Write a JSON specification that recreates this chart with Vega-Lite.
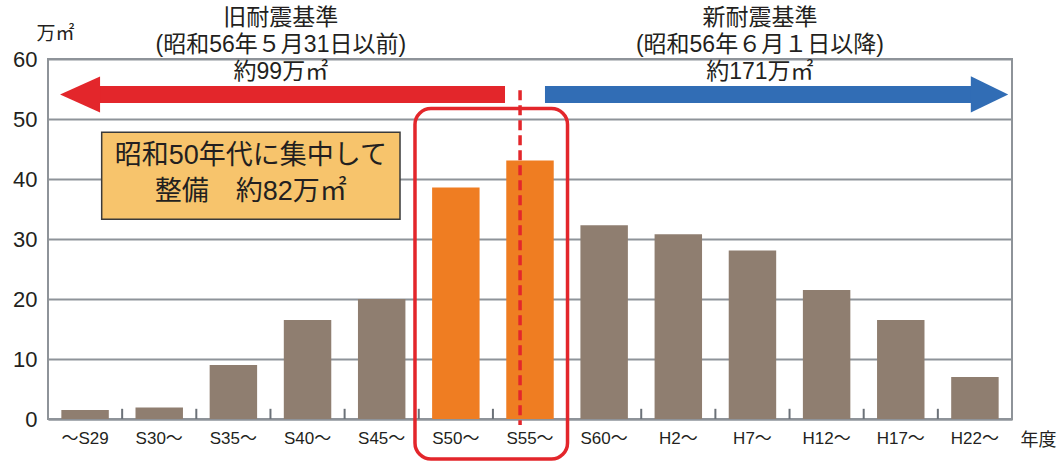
{
  "$schema": "https://vega.github.io/schema/vega-lite/v6.json",
  "autosize": {"type": "none"},
  "padding": {"left": 48, "top": 59, "right": 50, "bottom": 42},
  "width": 964,
  "height": 360,
  "background": "white",
  "config": {
    "view": {"stroke": "#8e9399", "strokeWidth": 2},
    "font": "Liberation Sans, Noto Sans CJK JP",
    "text": {"font": "Liberation Sans, Noto Sans CJK JP", "color": "#231f20"}
  },
  "resolve": {"scale": {"x": "independent"}, "axis": {"y": "shared"}},
  "layer": [
    {
      "data": {"values": [
        {"period": "～S29", "value": 1.5},
        {"period": "S30～", "value": 1.9},
        {"period": "S35～", "value": 9.0},
        {"period": "S40～", "value": 16.5},
        {"period": "S45～", "value": 20.0},
        {"period": "S50～", "value": 38.6},
        {"period": "S55～", "value": 43.1},
        {"period": "S60～", "value": 32.3},
        {"period": "H2～", "value": 30.8},
        {"period": "H7～", "value": 28.1},
        {"period": "H12～", "value": 21.5},
        {"period": "H17～", "value": 16.5},
        {"period": "H22～", "value": 7.0}
      ]},
      "mark": {"type": "bar"},
      "encoding": {
        "x": {
          "field": "period", "type": "nominal", "sort": null,
          "scale": {"paddingInner": 0.36, "paddingOuter": 0.18},
          "axis": {
            "title": "年度", "titleFontSize": 18, "titleFontWeight": "normal", "titleColor": "#231f20",
            "titleX": 990, "titleY": 21, "titleBaseline": "middle", "titleAlign": "center",
            "labelAngle": 0, "labelFontSize": 17, "labelColor": "#231f20", "labelPadding": 11,
            "ticks": false, "domainColor": "#8e9399", "domainWidth": 2,
            "labelFont": "Liberation Sans Narrow, Liberation Sans, Noto Sans CJK JP",
            "titleFont": "Noto Sans CJK JP"
          }
        },
        "y": {
          "field": "value", "type": "quantitative",
          "scale": {"domain": [0, 60], "nice": false},
          "axis": {
            "values": [0, 10, 20, 30, 40, 50, 60],
            "title": "万㎡", "titleAngle": 0, "titleFontSize": 19, "titleFontWeight": "normal",
            "titleColor": "#231f20", "titleX": 7, "titleY": -26, "titleAlign": "center", "titleBaseline": "middle",
            "titleFont": "Noto Sans CJK JP",
            "labelFontSize": 22, "labelColor": "#231f20", "labelPadding": 11,
            "ticks": false, "domain": false, "grid": true,
            "gridColor": "#8e9399", "gridWidth": 2
          }
        },
        "color": {
          "condition": {"test": "indexof(['S50～','S55～'], datum.period) >= 0", "value": "#ef7d22"},
          "value": "#8f7e70"
        }
      }
    },
    {
      "data": {"values": [{"b": 1}, {"b": 2}, {"b": 3}, {"b": 4}, {"b": 5}, {"b": 6}, {"b": 7}, {"b": 8}, {"b": 9}, {"b": 10}, {"b": 11}, {"b": 12}]},
      "mark": {"type": "rule", "color": "#6b7178", "strokeWidth": 2},
      "encoding": {
        "x": {"field": "b", "type": "quantitative", "scale": {"domain": [0, 13], "nice": false, "zero": false}, "axis": null},
        "y": {"datum": 0, "type": "quantitative"},
        "y2": {"datum": 1.7}
      }
    },
    {
      "data": {"values": [{"x0": 0.701, "x1": 6.163, "y": 54.1}]},
      "mark": {"type": "rule", "color": "#e3262b", "strokeWidth": 17, "strokeCap": "butt"},
      "encoding": {
        "x": {"field": "x0", "type": "quantitative", "scale": {"domain": [0, 13], "nice": false, "zero": false}, "axis": null},
        "x2": {"field": "x1"},
        "y": {"field": "y", "type": "quantitative"}
      }
    },
    {
      "data": {"values": [{"x": 0.432, "y": 54.1}]},
      "mark": {"type": "point", "shape": "M-1,0L1,-0.9L1,0.9Z", "size": 1600, "filled": true, "opacity": 1, "color": "#e3262b", "strokeWidth": 0},
      "encoding": {
        "x": {"field": "x", "type": "quantitative", "scale": {"domain": [0, 13], "nice": false, "zero": false}, "axis": null},
        "y": {"field": "y", "type": "quantitative"}
      }
    },
    {
      "data": {"values": [{"x0": 6.702, "x1": 12.448, "y": 54.1}]},
      "mark": {"type": "rule", "color": "#316db5", "strokeWidth": 17, "strokeCap": "butt"},
      "encoding": {
        "x": {"field": "x0", "type": "quantitative", "scale": {"domain": [0, 13], "nice": false, "zero": false}, "axis": null},
        "x2": {"field": "x1"},
        "y": {"field": "y", "type": "quantitative"}
      }
    },
    {
      "data": {"values": [{"x": 12.697, "y": 54.1}]},
      "mark": {"type": "point", "shape": "M1,0L-1,-0.97L-1,0.97Z", "size": 1400, "filled": true, "opacity": 1, "color": "#316db5", "strokeWidth": 0},
      "encoding": {
        "x": {"field": "x", "type": "quantitative", "scale": {"domain": [0, 13], "nice": false, "zero": false}, "axis": null},
        "y": {"field": "y", "type": "quantitative"}
      }
    },
    {
      "data": {"values": [{"x": 6.366, "y0": 54.8, "y1": -1.0}]},
      "mark": {"type": "rule", "color": "#e3262b", "strokeWidth": 3.5, "strokeDash": [10, 5], "strokeCap": "butt"},
      "encoding": {
        "x": {"field": "x", "type": "quantitative", "scale": {"domain": [0, 13], "nice": false, "zero": false}, "axis": null},
        "y": {"field": "y0", "type": "quantitative"},
        "y2": {"field": "y1"}
      }
    },
    {
      "data": {"values": [{"x0": 4.949, "x1": 7.006, "y0": 51.75, "y1": -6.67}]},
      "mark": {"type": "rect", "fill": null, "fillOpacity": 0, "stroke": "#e3262b", "strokeWidth": 3.5, "cornerRadius": 16},
      "encoding": {
        "x": {"field": "x0", "type": "quantitative", "scale": {"domain": [0, 13], "nice": false, "zero": false}, "axis": null},
        "x2": {"field": "x1"},
        "y": {"field": "y0", "type": "quantitative"},
        "y2": {"field": "y1"}
      }
    },
    {
      "data": {"values": [{"x0": 0.724, "x1": 4.747, "y0": 47.8, "y1": 33.3}]},
      "mark": {"type": "rect", "fill": "#f7c46c", "stroke": "#3a3a3a", "strokeWidth": 1.5},
      "encoding": {
        "x": {"field": "x0", "type": "quantitative", "scale": {"domain": [0, 13], "nice": false, "zero": false}, "axis": null},
        "x2": {"field": "x1"},
        "y": {"field": "y0", "type": "quantitative"},
        "y2": {"field": "y1"}
      }
    },
    {
      "data": {"values": [
        {"x": 2.735, "y": 43.8, "label": "昭和50年代に集中して"},
        {"x": 2.735, "y": 37.9, "label": "整備　約82万㎡"}
      ]},
      "mark": {"type": "text", "fontSize": 27, "align": "center", "baseline": "middle"},
      "encoding": {
        "x": {"field": "x", "type": "quantitative", "scale": {"domain": [0, 13], "nice": false, "zero": false}, "axis": null},
        "y": {"field": "y", "type": "quantitative"},
        "text": {"field": "label"}
      }
    },
    {
      "data": {"values": [
        {"x": 3.14, "y": 66.8, "label": "旧耐震基準"},
        {"x": 3.14, "y": 62.3, "label": "(昭和56年５月31日以前)"},
        {"x": 3.14, "y": 57.9, "label": "約99万㎡"},
        {"x": 9.6, "y": 66.8, "label": "新耐震基準"},
        {"x": 9.6, "y": 62.3, "label": "(昭和56年６月１日以降)"},
        {"x": 9.6, "y": 57.9, "label": "約171万㎡"}
      ]},
      "mark": {"type": "text", "fontSize": 23, "align": "center", "baseline": "middle"},
      "encoding": {
        "x": {"field": "x", "type": "quantitative", "scale": {"domain": [0, 13], "nice": false, "zero": false}, "axis": null},
        "y": {"field": "y", "type": "quantitative"},
        "text": {"field": "label"}
      }
    }
  ]
}
